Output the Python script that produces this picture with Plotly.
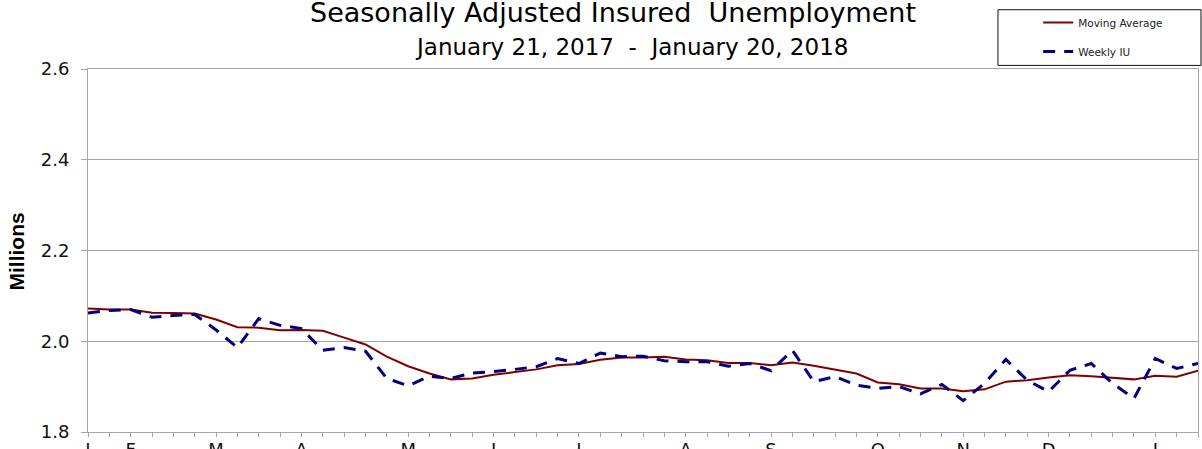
import pandas as pd
import plotly.graph_objects as go

# ---- data ----
start_date = "2017-01-21"
n_weeks = 53
week_ending = [d.strftime("%Y-%m-%d") for d in pd.date_range(start_date, periods=n_weeks, freq="7D")]

moving_average = [
    2.072, 2.070, 2.070, 2.063, 2.062, 2.061, 2.048, 2.031, 2.030, 2.024,
    2.025, 2.023, 2.008, 1.993, 1.966, 1.945, 1.929, 1.916, 1.918, 1.926,
    1.932, 1.938, 1.947, 1.950, 1.959, 1.964, 1.964, 1.966, 1.960, 1.958,
    1.952, 1.952, 1.947, 1.953, 1.946, 1.938, 1.929, 1.909, 1.905, 1.896,
    1.896, 1.890, 1.894, 1.911, 1.914, 1.920, 1.925, 1.923, 1.920, 1.916,
    1.924, 1.922, 1.935,
]

weekly_iu = [
    2.062, 2.068, 2.070, 2.053, 2.057, 2.059, 2.025, 1.986, 2.050, 2.035,
    2.028, 1.980, 1.986, 1.978, 1.918, 1.902, 1.923, 1.918, 1.930, 1.933,
    1.938, 1.944, 1.962, 1.951, 1.974, 1.966, 1.967, 1.957, 1.955, 1.955,
    1.945, 1.951, 1.935, 1.980, 1.911, 1.922, 1.903, 1.896, 1.900, 1.884,
    1.905, 1.869, 1.907, 1.960, 1.914, 1.889, 1.936, 1.951, 1.907, 1.874,
    1.962, 1.940, 1.951,
]

y_ticks = [1.8, 2.0, 2.2, 2.4, 2.6]
month_letters = ["J", "F", "M", "A", "M", "J", "J", "A", "S", "O", "N", "D"]

title_text = "Seasonally Adjusted Insured\u00a0\u00a0Unemployment"
subtitle_text = "January 21, 2017\u00a0\u00a0-\u00a0\u00a0January 20, 2018"

# tick labels: month initial at first week of each month
tick_text = []
prev_month = None
for d in week_ending:
    m = int(d[5:7])
    if m != prev_month:
        tick_text.append(month_letters[m - 1])
    else:
        tick_text.append("")
    prev_month = m

GRID = "#a6a6a6"
FONT = "DejaVu Sans"

fig = go.Figure()
fig.add_trace(go.Scatter(
    x=week_ending, y=moving_average, mode="lines", name="Moving Average",
    line=dict(color="#800000", width=2), legendgroup="a",
))
fig.add_trace(go.Scatter(
    x=week_ending, y=weekly_iu, mode="lines", name="Weekly IU",
    line=dict(color="#000080", width=3, dash="12px,9px"), legendgroup="b",
))

fig.update_layout(
    width=1202, height=449,
    margin=dict(l=88, r=4, t=69, b=17, autoexpand=False),
    paper_bgcolor="white", plot_bgcolor="white",
    showlegend=True,
    legend=dict(
        x=0.856, xanchor="left", y=1.168, yanchor="top",
        font=dict(family=FONT, size=10.5, color="#222222"),
        bgcolor="rgba(0,0,0,0)", borderwidth=0,
        tracegroupgap=10,
    ),
    xaxis=dict(
        type="date",
        range=[week_ending[0], week_ending[-1]],
        tickmode="array", tickvals=week_ending, ticktext=tick_text,
        ticks="outside", ticklen=4, tickcolor=GRID, tickwidth=1,
        showgrid=False, showline=True, linecolor=GRID, linewidth=1,
        mirror=True, zeroline=False,
        tickfont=dict(family=FONT, size=18, color="#111111"),
        ticklabelstandoff=-3,
        automargin=False,
    ),
    yaxis=dict(
        range=[1.8, 2.6], tickmode="array", tickvals=y_ticks,
        tickformat=".1f",
        ticks="outside", ticklen=6, tickcolor=GRID, tickwidth=1,
        showgrid=True, gridcolor=GRID, gridwidth=1,
        showline=True, linecolor=GRID, linewidth=1, mirror=True,
        zeroline=False,
        tickfont=dict(family=FONT, size=18, color="#111111"),
        ticklabelstandoff=8,
        automargin=False,
    ),
    shapes=[dict(
        type="rect", xref="paper", yref="paper",
        x0=0.8198, x1=1.0027, y0=1.0099, y1=1.1633,
        line=dict(color="#111111", width=1), fillcolor="rgba(0,0,0,0)",
        layer="above",
    )],
    annotations=[
        dict(text=title_text, xref="paper", yref="paper", x=0.4734, y=1.157,
             xanchor="center", yanchor="middle", showarrow=False,
             font=dict(family=FONT, size=27, color="#000000")),
        dict(text=subtitle_text, xref="paper", yref="paper", x=0.490, y=1.0615,
             xanchor="center", yanchor="middle", showarrow=False,
             font=dict(family=FONT, size=23, color="#000000")),
        dict(text="<b>Millions</b>", xref="paper", yref="paper", x=-0.0644, y=0.496,
             xanchor="center", yanchor="middle", showarrow=False, textangle=-90,
             font=dict(family="Liberation Sans", size=21, color="#000000")),
    ],
)

# remove the default 8px page margin so the figure fills the window exactly
fig.write_html(
    "out.html",
    config={"displayModeBar": False},
    post_script="document.body.style.margin='0';",
)
